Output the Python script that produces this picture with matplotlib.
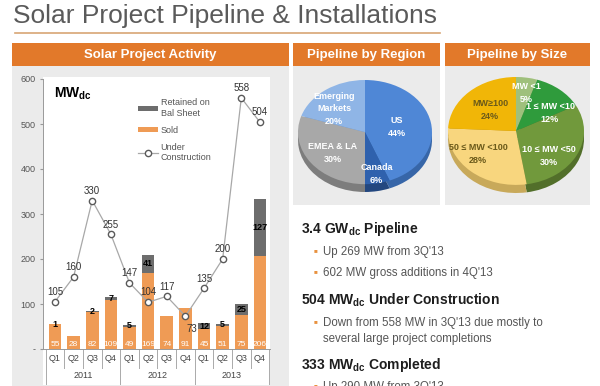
import matplotlib
matplotlib.use("Agg")
import matplotlib.pyplot as plt
from matplotlib.patches import Rectangle
import numpy as np

plt.rcParams["font.family"] = ["Liberation Sans", "DejaVu Sans"]
plt.rcParams["mathtext.fontset"] = "custom"
plt.rcParams["mathtext.rm"] = "Liberation Sans"
plt.rcParams["mathtext.bf"] = "Liberation Sans:bold"

# ── data ──────────────────────────────────────────────────────────────
quarters = ["Q1", "Q2", "Q3", "Q4"] * 3
years = ["2011", "2012", "2013"]
sold = [55, 28, 82, 109, 49, 169, 74, 91, 45, 51, 75, 206]
retained = [1, 0, 2, 7, 5, 41, 0, 0, 12, 5, 25, 127]
under_construction = [105, 160, 330, 255, 147, 104, 117, 73, 135, 200, 558, 504]

region_labels = ["US", "Canada", "EMEA & LA", "Emerging\nMarkets"]
region_share = [44, 6, 30, 20]
size_labels = ["MW <1", "1 ≤ MW <10", "10 ≤ MW <50", "50 ≤ MW <100", "MW≥100"]
size_share = [5, 12, 30, 28, 24]

ORANGE_HDR = "#e2792a"
SOLD_C = "#ef9b55"
RET_C = "#6d6d6d"
PANEL = "#ebebeb"

W, H = 600, 386
fig = plt.figure(figsize=(6.0, 3.86), dpi=100)


def box(x0, y0, x1, y1):
    return [x0 / W, 1 - y1 / H, (x1 - x0) / W, (y1 - y0) / H]


# overlay in pixel coordinates for the slide furniture
ov = fig.add_axes([0, 0, 1, 1])
ov.set_xlim(0, W)
ov.set_ylim(H, 0)
ov.axis("off")

ov.text(13, 16, "Solar Project Pipeline & Installations", fontsize=19,
        color="#5a5a5a", va="center", ha="left")
ov.plot([15, 440], [33, 33], color="#d8a574", lw=1.2)

# panels
ov.add_patch(Rectangle((12, 66), 277, 330, color=PANEL, lw=0))
ov.add_patch(Rectangle((43, 77), 227, 308, color="white", lw=0))
ov.add_patch(Rectangle((293, 66), 147, 139, color=PANEL, lw=0))
ov.add_patch(Rectangle((445, 66), 145, 139, color=PANEL, lw=0))

# orange headers
for (x0, x1, label) in [(12, 289, "Solar Project Activity"),
                        (293, 440, "Pipeline by Region"),
                        (445, 590, "Pipeline by Size")]:
    ov.add_patch(Rectangle((x0, 43), x1 - x0, 23, color=ORANGE_HDR, lw=0))
    ov.text((x0 + x1) / 2, 55, label, color="white", fontsize=9.5,
            fontweight="bold", ha="center", va="center")

# ── bar + line chart ──────────────────────────────────────────────────
ax = fig.add_axes(box(43, 79, 270, 349))
ax.set_facecolor("none")
x = np.arange(len(sold))
b1 = ax.bar(x, sold, width=0.68, color=SOLD_C, zorder=2)
b2 = ax.bar(x, retained, bottom=sold, width=0.68, color=RET_C, zorder=2)
ln, = ax.plot(x, under_construction, "-o", color="#a8a8a8", lw=0.9, ms=4.5,
              mfc="white", mec="#5a5a5a", mew=1.0, zorder=4)

for i in range(len(x)):
    ax.text(x[i], 11, str(sold[i]), color="white", fontsize=6, ha="center",
            va="center", zorder=3)
    if retained[i]:
        ax.text(x[i], sold[i] + retained[i] / 2, str(retained[i]),
                color="black", fontsize=6.5, fontweight="bold", ha="center",
                va="center", zorder=3)
    off = (5, -9) if under_construction[i] == 73 else (0, 7)
    ax.annotate(str(under_construction[i]), (x[i], under_construction[i]),
                textcoords="offset points", xytext=off, fontsize=7,
                color="#333333", ha="center", va="center", zorder=5)

ax.set_xlim(-0.64, 11.54)
ax.set_ylim(0, 600)
ax.set_yticks([0, 100, 200, 300, 400, 500, 600])
ax.set_yticklabels(["-", "100", "200", "300", "400", "500", "600"])
ax.tick_params(axis="y", labelsize=6.5, labelcolor="#555555", length=2,
               color="#999999", pad=3.5)
ax.set_xticks([])
for s in ["top", "right"]:
    ax.spines[s].set_visible(False)
ax.spines["left"].set_color("#999999")
ax.spines["bottom"].set_color("#999999")
ax.spines["left"].set_linewidth(0.7)
ax.spines["bottom"].set_linewidth(0.7)

# category axis: quarters + years
tr = ax.get_xaxis_transform()
for i, q in enumerate(quarters):
    ax.text(x[i], -0.037, q, transform=tr, fontsize=6.5, color="#444444",
            ha="center", va="center", clip_on=False)
for k in range(len(x) + 1):
    edge = k - 0.5
    low = -0.13 if k % 4 == 0 else -0.07
    ax.plot([edge, edge], [0, low], transform=tr, color="#aaaaaa", lw=0.7,
            clip_on=False)
for j, yr in enumerate(years):
    ax.text(j * 4 + 1.5, -0.10, yr, transform=tr, fontsize=6.5,
            color="#444444", ha="center", va="center", clip_on=False)

ax.text(0.05, 0.975, "MW$_{\\mathregular{dc}}$", transform=ax.transAxes,
        fontsize=10, fontweight="bold", ha="left", va="top")

ax.legend([b2, b1, ln], ["Retained on\nBal Sheet", "Sold", "Under\nConstruction"],
          loc="upper left", bbox_to_anchor=(130 / W, 1 - 90 / H),
          bbox_transform=fig.transFigure, frameon=False, fontsize=6.5,
          handlelength=2.2, handleheight=0.5, labelspacing=0.9,
          handletextpad=0.3, labelcolor="#555555")


# ── pies (tilted, with a thin side edge) ──────────────────────────────
def tilted_pie(rect, shares, colors, edge_colors, labels, label_xy, label_colors):
    pa = fig.add_axes(rect)
    pa.pie(shares, colors=edge_colors, startangle=90, counterclock=False,
           center=(0, -0.15), radius=1.0)
    pa.pie(shares, colors=colors, startangle=90, counterclock=False,
           radius=1.0)
    pa.set_aspect("auto")
    pa.set_xlim(-1, 1)
    pa.set_ylim(-1.15, 1)
    pa.axis("off")
    for lab, share, (lx, ly), lc in zip(labels, shares, label_xy, label_colors):
        pa.text(lx, ly, f"{lab}\n{share}%", fontsize=6.5, fontweight="bold",
                color=lc, ha="center", va="center", linespacing=1.5)
    return pa


tilted_pie(box(298, 80, 432, 192), region_share,
           ["#4f87d6", "#2f61ad", "#a8a8a8", "#8fb5e6"],
           ["#3766a8", "#23477f", "#7d7d7d", "#6a8fbf"],
           region_labels,
           [(0.48, 0.1), (0.17, -0.8), (-0.48, -0.4), (-0.46, 0.45)],
           ["white"] * 4)

tilted_pie(box(448, 77, 584, 193), size_share,
           ["#9fc07c", "#2f9b3c", "#71993c", "#f8d67e", "#f1b607"],
           ["#7b9a5c", "#23752d", "#526f2a", "#c8a95a", "#b98b05"],
           size_labels,
           [(0.15, 0.7), (0.5, 0.33), (0.49, -0.46), (-0.56, -0.43), (-0.38, 0.39)],
           ["white", "white", "white", "#6b5a1a", "#6b5a1a"])

# ── text block ────────────────────────────────────────────────────────
HEAD_C = "#1e1e1e"
BODY_C = "#555555"
BUL_C = "#e8913f"

ov.text(301, 229, "3.4 GW$_{\\mathregular{dc}}$ Pipeline", fontsize=10,
        fontweight="bold", color=HEAD_C, va="center")
ov.text(301, 300, "504 MW$_{\\mathregular{dc}}$ Under Construction", fontsize=10,
        fontweight="bold", color=HEAD_C, va="center")
ov.text(301, 365, "333 MW$_{\\mathregular{dc}}$ Completed", fontsize=10,
        fontweight="bold", color=HEAD_C, va="center")

bullets = [(252, "Up 269 MW from 3Q'13", True),
           (273, "602 MW gross additions in 4Q'13", True),
           (323, "Down from 558 MW in 3Q'13 due mostly to", True),
           (339, "several large project completions", False),
           (387, "Up 290 MW from 3Q'13", True)]
for by, txt, mark in bullets:
    if mark:
        ov.text(316, by - 1, "■", fontsize=4.5, color=BUL_C, ha="center",
                va="center")
    ov.text(323, by, txt, fontsize=8.3, color=BODY_C, va="center")

fig.savefig("out.png", dpi=100)
